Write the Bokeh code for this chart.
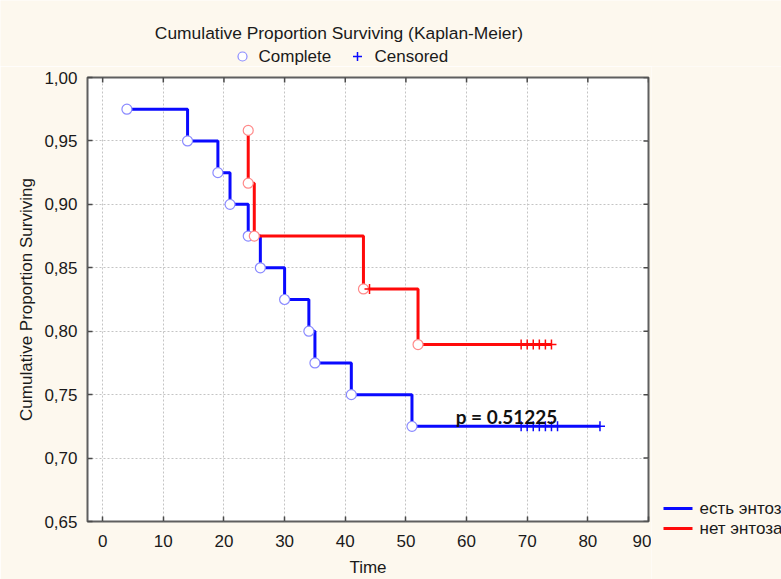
import math

from bokeh.plotting import figure
from bokeh.layouts import column, row
from bokeh.models import FixedTicker, CustomJSTickFormatter, Label, Range1d
from bokeh.core.properties import value
from bokeh.embed import file_html
from bokeh.resources import INLINE

# Kaplan-Meier estimates: group "есть энтоз..." (complete events)
with_t = [4, 14, 19, 21, 24, 26, 30, 34, 35, 41, 51]
with_s = [0.975, 0.950, 0.925, 0.900, 0.875, 0.850, 0.825, 0.800, 0.775, 0.750, 0.725]
with_cens_t = [69, 70, 71, 72, 73, 74, 75, 82]

# group "нет энтоза..."
without_t = [24, 24, 25, 43, 52]
without_s = [0.9583, 0.9167, 0.8750, 0.8333, 0.7895]
without_cens_t = [44, 69, 70, 71, 72, 73, 74]

group_labels = ["есть энтоз", "нет энтоза"]
marker_labels = ["Complete", "Censored"]
title_text = "Cumulative Proportion Surviving (Kaplan-Meier)"
x_ticks = [0, 10, 20, 30, 40, 50, 60, 70, 80, 90]
y_ticks = [0.65, 0.70, 0.75, 0.80, 0.85, 0.90, 0.95, 1.00]
p_text = "p = 0.51225"
p_pos = (58.2, 0.733)

BLUE = "#0a0aff"
RED = "#ff0a0a"
BLUE_LIGHT = "#8a8aff"
RED_LIGHT = "#ff8a8a"
FONT = "Liberation Sans"
BG = "#fdf8ee"
TXT = "#1a1a1a"
TICK = "#4a4a4a"
FS = "17px"

HEAD_H = 66
MAIN_W, MAIN_H = 651, 579 - HEAD_H
SIDE_W = 781 - MAIN_W


def surv_at(times, surv, t):
    s = 1.0
    for ti, si in zip(times, surv):
        if ti <= t:
            s = si
    return s


def bare(width, height, xr, yr):
    f = figure(width=width, height=height, output_backend="svg",
               toolbar_location=None, x_range=xr, y_range=yr,
               x_axis_type=None, y_axis_type=None, min_border=0)
    f.background_fill_color = BG
    f.border_fill_color = BG
    f.outline_line_color = None
    f.grid.visible = False
    return f


# ---- header: title and marker key (pixel-like coordinates, y from top)
head = bare(781, HEAD_H, Range1d(0, 781), Range1d(HEAD_H, 0))
head.text(x=[338.5], y=[32], text=[title_text], text_font=value(FONT),
          text_font_size="17.4px", text_color=TXT, text_align="center",
          text_baseline="middle")
head.scatter(x=[242], y=[56], marker="circle", size=9, fill_color="white",
             line_color=BLUE_LIGHT, line_width=1.2)
head.scatter(x=[357], y=[56], marker="cross", size=9, line_color=BLUE,
             line_width=1.5)
head.text(x=[258, 374], y=[56, 56], text=marker_labels, text_font=value(FONT),
          text_font_size=FS, text_color=TXT, text_align="left",
          text_baseline="middle")

# ---- main survival plot
p = figure(width=MAIN_W, height=MAIN_H, output_backend="svg", toolbar_location=None,
           x_range=Range1d(-2.5, 90), y_range=Range1d(0.65, 1.0),
           min_border_left=87, min_border_right=3, min_border_top=11,
           min_border_bottom=57)
p.background_fill_color = "white"
p.border_fill_color = BG
p.outline_line_color = "#5f5f5f"
p.outline_line_width = 2

xt = FixedTicker(ticks=x_ticks)
yt = FixedTicker(ticks=y_ticks)
p.xaxis.ticker = xt
p.yaxis.ticker = yt
p.yaxis.formatter = CustomJSTickFormatter(code="return tick.toFixed(2).replace('.', ',')")
p.xgrid.ticker = xt
p.ygrid.ticker = yt
for g in (p.xgrid, p.ygrid):
    g.grid_line_color = "#c4c4c4"
    g.grid_line_dash = "2 2"
    g.grid_line_width = 1

p.xaxis.axis_label = "Time"
p.yaxis.axis_label = "Cumulative Proportion Surviving"

for ax in (p.xaxis[0], p.yaxis[0]):
    ax.axis_line_color = None
    ax.major_tick_in = 5
    ax.major_tick_out = 0
    ax.major_tick_line_color = TICK
    ax.major_tick_line_width = 1.5
    ax.minor_tick_line_color = None
    ax.major_label_text_font = FONT
    ax.major_label_text_font_size = FS
    ax.major_label_text_color = TXT
    ax.axis_label_text_font = FONT
    ax.axis_label_text_font_size = FS
    ax.axis_label_text_font_style = "normal"
    ax.axis_label_text_color = TXT
p.xaxis.major_label_standoff = 13
p.xaxis.axis_label_standoff = 8
p.yaxis.major_label_standoff = 10
p.yaxis.axis_label_standoff = 5

# inward tick marks along the top and right edges (outer half is clipped)
p.scatter(x=x_ticks, y=[y_ticks[-1]] * len(x_ticks), marker="dash", angle=math.pi / 2,
          size=10, line_color=TICK, line_width=1.5)
p.scatter(x=[x_ticks[-1]] * len(y_ticks), y=y_ticks, marker="dash",
          size=10, line_color=TICK, line_width=1.5)

# step curves
line_styles = [(with_t, with_s, with_cens_t, BLUE, BLUE_LIGHT),
               (without_t, without_s, without_cens_t, RED, RED_LIGHT)]
for times, surv, cens, col, light in line_styles:
    xs = list(times) + [max(cens)]
    ys = list(surv) + [surv[-1]]
    p.step(xs, ys, mode="after", line_color=col, line_width=3)

for times, surv, cens, col, light in line_styles:
    p.scatter(times, surv, marker="circle", size=10, fill_color="white",
              line_color=light, line_width=1.2)
    cy = [surv_at(times, surv, t) for t in cens]
    p.scatter(cens, cy, marker="cross", size=10, line_color=col, line_width=1.5)

# p-value annotation
p.add_layout(Label(x=p_pos[0], y=p_pos[1], text=p_text, text_font="Lato",
                   text_font_style="bold", text_font_size="19px",
                   text_color="#111111", text_baseline="alphabetic"))

# ---- group key to the right of the frame (y from top of this panel)
side = bare(SIDE_W, MAIN_H, Range1d(0, SIDE_W), Range1d(MAIN_H, 0))
key_y = [508 - HEAD_H, 528 - HEAD_H]
side.segment(x0=[12, 12], y0=key_y, x1=[41, 41], y1=key_y,
             line_color=[BLUE, RED], line_width=3)
side.text(x=[48, 48], y=key_y, text=group_labels, text_font=value(FONT),
          text_font_size=FS, text_color=TXT, text_align="left",
          text_baseline="middle")

layout = column(head, row(p, column(side)))
open("out.html", "w").write(file_html(layout, INLINE))
